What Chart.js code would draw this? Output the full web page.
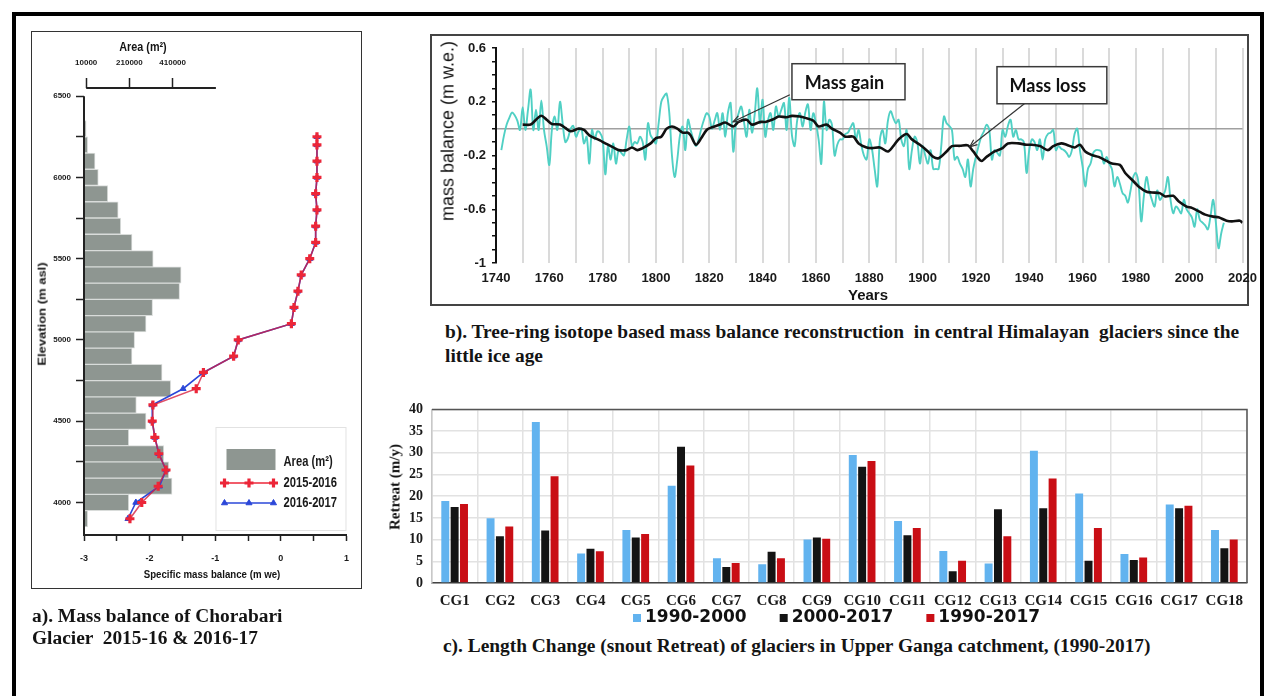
<!DOCTYPE html>
<html>
<head>
<meta charset="utf-8">
<title>Chorabari Glacier mass balance and Upper Ganga glacier retreat</title>
<script src="https://cdn.jsdelivr.net/npm/chart.js@4.4.1/dist/chart.umd.min.js"></script>
<style>
  html, body { margin: 0; padding: 0; background: #fff; }
  body { position: relative; width: 1269px; height: 696px; overflow: hidden; color: #141414;
         font-family: 'Liberation Sans', Arial, sans-serif; }
  .abs { position: absolute; box-sizing: border-box; }
  .frame { left: 12px; top: 12px; width: 1252px; height: 700px; border: 4px solid #000; }
  #boxA { left: 31px; top: 31px; width: 331px; height: 558px; border: 1.5px solid #333; }
  #boxB { left: 430px; top: 34px; width: 819px; height: 272px; border: 2px solid #444; }
  canvas { position: absolute; }
  .cap { position: absolute; font-family: 'Liberation Serif', 'Times New Roman', serif; font-weight: bold;
         font-size: 19.4px; color: #141414; white-space: pre; }
  .lbl { position: absolute; white-space: nowrap; line-height: 1; }
</style>
</head>
<body>
<div class="abs frame"></div>
<div class="abs" id="boxA"></div>
<div class="abs" id="boxB"></div>

<canvas id="chartA" width="330" height="557" style="left:31px;top:31px;width:330px;height:557px;"></canvas>
<canvas id="chartB" width="835" height="271" style="left:430px;top:34px;width:835px;height:271px;"></canvas>
<canvas id="chartC" width="885" height="240" style="left:380px;top:392px;width:885px;height:240px;"></canvas>

<!-- axis titles -->
<div class="lbl" style="left:143px;top:47px;font:bold 12px 'Liberation Sans',Arial;transform:translate(-50%,-50%) scaleX(0.9);">Area (m²)</div>
<div class="lbl" style="left:42px;top:314px;font:bold 13px 'Liberation Sans',Arial;transform:translate(-50%,-50%) rotate(-90deg) scaleY(0.85);">Elevation (m asl)</div>
<div class="lbl" style="left:212px;top:574px;font:bold 11px 'Liberation Sans',Arial;transform:translate(-50%,-50%) scaleX(0.88);">Specific mass balance (m we)</div>

<div class="lbl" style="left:448px;top:131px;font:18px 'Liberation Sans',Arial;transform:translate(-50%,-50%) rotate(-90deg);">mass balance (m w.e.)</div>
<div class="lbl" style="left:868px;top:294px;font:bold 15px 'Liberation Sans',Arial;transform:translate(-50%,-50%);">Years</div>

<div class="lbl" style="left:395px;top:487px;font:bold 15px 'Liberation Serif','Times New Roman',serif;transform:translate(-50%,-50%) rotate(-90deg);">Retreat (m/y)</div>

<!-- captions -->
<div class="cap" style="left:32px;top:605px;line-height:22px;">a). Mass balance of Chorabari
Glacier  2015-16 &amp; 2016-17</div>
<div class="cap" style="left:445px;top:320px;line-height:24px;">b). Tree-ring isotope based mass balance reconstruction  in central Himalayan  glaciers since the
little ice age</div>
<div class="cap" style="left:443px;top:635px;line-height:22px;">c). Length Change (snout Retreat) of glaciers in Upper Ganga catchment, (1990-2017)</div>

<script>
// ---------------- Panel a: hypsometry and specific mass balance ----------------
const elevationBins = [3900, 4000, 4100, 4200, 4300, 4400, 4500, 4600, 4700, 4800, 4900, 5000, 5100,
                       5200, 5300, 5400, 5500, 5600, 5700, 5800, 5900, 6000, 6100, 6200, 6300];
const binAreaM2 = [17000, 207000, 407000, 392000, 369000, 207000, 287000, 242000, 401000, 361000, 222000,
                   234000, 287000, 317000, 442000, 449000, 320000, 222000, 170000, 158000, 110000, 66000,
                   51000, 17000, 10000];
const profileElev = [3900, 4000, 4100, 4200, 4300, 4400, 4500, 4600, 4700, 4800, 4900, 5000, 5100, 5200,
                     5300, 5400, 5500, 5600, 5700, 5800, 5900, 6000, 6100, 6200, 6250];
const mb2015_16 = [-2.30, -2.12, -1.87, -1.75, -1.86, -1.92, -1.96, -1.95, -1.29, -1.18, -0.72, -0.65, 0.16,
                   0.20, 0.26, 0.31, 0.44, 0.53, 0.53, 0.55, 0.53, 0.55, 0.55, 0.55, 0.55];
const mb2016_17 = [-2.33, -2.21, -1.85, -1.75, -1.86, -1.92, -1.96, -1.96, -1.49, -1.18, -0.72, -0.65, 0.16,
                   0.20, 0.26, 0.31, 0.44, 0.53, 0.53, 0.55, 0.53, 0.55, 0.55, 0.55, 0.55];
const elevTicks = [4000, 4250, 4500, 4750, 5000, 5250, 5500, 5750, 6000, 6250, 6500];
const elevLabels = [4000, 4500, 5000, 5500, 6000, 6500];
const mbTicks = [-3, -2.5, -2, -1.5, -1, -0.5, 0, 0.5, 1];
const mbLabels = [-3, -2, -1, 0, 1];
const areaTicks = [10000, 210000, 410000];

// ---------------- Panel b: tree-ring mass balance reconstruction ----------------
const annualStartYear = 1742;
const annualBalance = [
  -0.16, -0.05, 0.03, 0.08, 0.12, 0.10, 0.06, -0.01,
  0.16, -0.01, 0.14, 0.29, -0.01, 0.14, -0.01, 0.21, -0.01, -0.13,
  -0.27, 0.00, 0.09, -0.01, 0.20, 0.04, -0.10, -0.07, 0.00, 0.02,
  -0.06, -0.02, 0.00, -0.11, -0.06, -0.26, -0.01, -0.08, -0.02, -0.03,
  -0.08, -0.34, -0.13, -0.23, -0.11, -0.26, -0.16, -0.18, -0.20, -0.08,
  0.015, -0.13, -0.10, -0.11, -0.06, -0.10, -0.23, 0.04, -0.05, -0.08,
  -0.11, 0.04, 0.20, 0.24, 0.26, 0.115, -0.20, -0.36, -0.23, -0.05,
  0.015, -0.16, 0.066, -0.01, -0.08, -0.13, -0.08, 0.00, 0.066, 0.115,
  0.09, 0.00, 0.06, 0.115, -0.01, 0.115, -0.06, 0.12, 0.19, -0.17,
  0.04, 0.115, 0.165, 0.05, -0.06, 0.14, -0.03, 0.10, 0.30, 0.04,
  0.215, -0.06, 0.06, 0.115, -0.01, 0.165, 0.09, 0.14, 0.19, -0.01,
  0.23, -0.05, -0.13, 0.066, 0.115, 0.015, 0.12, 0.18, -0.01, 0.115,
  0.04, -0.08, -0.26, 0.20, -0.01, 0.066, 0.03, -0.20, -0.12, -0.08,
  -0.08, -0.04, -0.03, 0.01, 0.04, -0.08, -0.01, -0.12, -0.20, -0.23,
  -0.08, -0.15, -0.30, -0.43, -0.08, -0.01, -0.11, 0.06, 0.13, 0.08,
  0.04, 0.066, -0.08, -0.13, -0.01, -0.30, -0.16, -0.06, -0.10, -0.26,
  -0.13, -0.20, -0.26, -0.16, -0.30, -0.30, -0.30, -0.13, 0.09, 0.04,
  0.02, -0.01, -0.23, -0.21, -0.26, -0.30, -0.36, -0.23, -0.43, -0.30,
  -0.21, -0.13, -0.06, -0.02, 0.03, -0.01, -0.23, -0.16, -0.18, -0.20,
  -0.01, -0.06, 0.02, 0.066, -0.06, -0.01, -0.08, -0.08, -0.10, -0.33,
  -0.16, -0.08, -0.10, -0.16, -0.08, -0.23, -0.08, -0.04, -0.03, -0.01,
  -0.16, -0.13, -0.15, -0.16, -0.18, -0.21, -0.16, -0.04, 0.00, -0.16,
  -0.28, -0.43, -0.30, -0.26, -0.18, -0.16, -0.16, -0.17, -0.26, -0.21,
  -0.26, -0.30, -0.43, -0.36, -0.41, -0.48, -0.50, -0.55, -0.46, -0.36,
  -0.33, -0.41, -0.69, -0.50, -0.36, -0.46, -0.53, -0.58, -0.46, -0.53,
  -0.50, -0.46, -0.36, -0.53, -0.63, -0.58, -0.60, -0.63, -0.53, -0.60,
  -0.63, -0.66, -0.73, -0.60, -0.68, -0.70, -0.72, -0.75, -0.65, -0.53,
  -0.70, -0.89, -0.78, -0.70
];
const smoothYears = [1750, 1753, 1755, 1757, 1759, 1761, 1764, 1766, 1768, 1771, 1773, 1775, 1779, 1781, 1784,
  1786, 1789, 1791, 1793, 1795, 1798, 1800, 1802, 1804, 1806, 1808, 1810, 1812, 1813, 1815, 1817, 1819, 1821,
  1824, 1826, 1829, 1831, 1834, 1836, 1839, 1841, 1844, 1846, 1849, 1851, 1854, 1856, 1859, 1861, 1864, 1866,
  1869, 1871, 1874, 1876, 1879, 1881, 1884, 1887, 1889, 1891, 1894, 1896, 1899, 1902, 1904, 1906, 1909, 1911,
  1914, 1917, 1919, 1922, 1924, 1927, 1930, 1932, 1936, 1939, 1941, 1944, 1947, 1949, 1952, 1954, 1957, 1959,
  1961, 1964, 1966, 1969, 1971, 1974, 1976, 1979, 1981, 1984, 1986, 1989, 1991, 1994, 1996, 1999, 2001, 2004,
  2006, 2009, 2011, 2014, 2016, 2019, 2020];
const smoothBalance = [0.03, 0.03, 0.066, 0.096, 0.066, 0.035, 0.03, 0.005, -0.02, 0.0, -0.01, -0.05, -0.088,
  -0.11, -0.14, -0.16, -0.16, -0.14, -0.16, -0.145, -0.11, -0.07, -0.06, 0.0, 0.016, 0.0, -0.03, -0.03, -0.05,
  -0.12, -0.07, -0.01, 0.01, 0.03, 0.046, 0.016, 0.05, 0.066, 0.03, 0.05, 0.05, 0.07, 0.09, 0.085, 0.095, 0.09,
  0.08, 0.06, 0.016, 0.03, 0.0, -0.03, -0.06, -0.06, -0.11, -0.14, -0.145, -0.14, -0.17, -0.13, -0.08, -0.04,
  -0.08, -0.12, -0.17, -0.21, -0.22, -0.17, -0.13, -0.128, -0.125, -0.17, -0.24, -0.21, -0.17, -0.145, -0.11,
  -0.11, -0.12, -0.12, -0.13, -0.16, -0.13, -0.11, -0.12, -0.14, -0.12, -0.17, -0.20, -0.21, -0.24, -0.26,
  -0.27, -0.33, -0.39, -0.43, -0.47, -0.475, -0.48, -0.505, -0.50, -0.54, -0.58, -0.59, -0.62, -0.64, -0.655,
  -0.66, -0.685, -0.69, -0.685, -0.70];
const yearTicks = [1740, 1750, 1760, 1770, 1780, 1790, 1800, 1810, 1820, 1830, 1840, 1850, 1860, 1870, 1880,
  1890, 1900, 1910, 1920, 1930, 1940, 1950, 1960, 1970, 1980, 1990, 2000, 2010, 2020];
const yearLabels = [1740, 1760, 1780, 1800, 1820, 1840, 1860, 1880, 1900, 1920, 1940, 1960, 1980, 2000, 2020];
const balanceTicks = [0.6, 0.5, 0.4, 0.3, 0.2, 0.1, 0, -0.1, -0.2, -0.3, -0.4, -0.5, -0.6, -0.7, -0.8, -0.9, -1];
const balanceLabels = [0.6, 0.2, -0.2, -0.6, -1];
const callouts = [
  { text: 'Mass gain', box: [1851, 0.483, 1893.4, 0.215], tail: [1850.2, 0.252], tip: [1828.9, 0.051] },
  { text: 'Mass loss', box: [1927.9, 0.461, 1969.1, 0.185], tail: [1939.1, 0.20], tip: [1917.7, -0.135] }
];

// ---------------- Panel c: snout retreat of Upper Ganga glaciers ----------------
const glaciers = ['CG1', 'CG2', 'CG3', 'CG4', 'CG5', 'CG6', 'CG7', 'CG8', 'CG9', 'CG10', 'CG11', 'CG12',
                  'CG13', 'CG14', 'CG15', 'CG16', 'CG17', 'CG18'];
const retreat1990_2000 = [18.9, 14.9, 37.1, 6.8, 12.2, 22.4, 5.7, 4.3, 10.0, 29.5, 14.3, 7.4, 4.5, 30.5, 20.6, 6.7, 18.1, 12.2];
const retreat2000_2017 = [17.5, 10.8, 12.1, 7.9, 10.5, 31.4, 3.7, 7.2, 10.5, 26.8, 11.0, 2.7, 17.0, 17.2, 5.1, 5.3, 17.2, 8.0];
const retreat1990_2017 = [18.2, 13.0, 24.6, 7.3, 11.3, 27.1, 4.6, 5.7, 10.2, 28.1, 12.7, 5.1, 10.8, 24.1, 12.7, 5.9, 17.8, 10.0];

// ---------------------------------------------------------------------------------
Chart.defaults.color = '#1a1a1a';
Chart.defaults.font.family = "'Liberation Sans', Arial, sans-serif";
const SANS = "'Liberation Sans', Arial, sans-serif";
const SERIF = "'Liberation Serif', 'Times New Roman', serif";
const common = { responsive: false, animation: false, devicePixelRatio: 1, events: [] };

// Panel a: left axis line (6500 down to 3800), the short area axis on top, and the in-plot legend
const panelAExtras = {
  id: 'panelAExtras',
  afterDraw(chart) {
    const { ctx, chartArea, scales } = chart;
    ctx.save();
    ctx.strokeStyle = '#222';
    ctx.lineWidth = 2;
    ctx.beginPath();
    ctx.moveTo(chartArea.left, scales.y.getPixelForValue(6500));
    ctx.lineTo(chartArea.left, scales.y.getPixelForValue(3800));
    ctx.stroke();
    ctx.beginPath();
    ctx.moveTo(scales.x2.getPixelForValue(10000), chartArea.top);
    ctx.lineTo(scales.x2.getPixelForValue(610000), chartArea.top);
    ctx.stroke();

    // legend
    const bx = chartArea.right - 131, by = chartArea.bottom - 108, bw = 130, bh = 103;
    ctx.fillStyle = '#fff';
    ctx.fillRect(bx, by, bw, bh);
    ctx.strokeStyle = '#e2e2e2';
    ctx.lineWidth = 1;
    ctx.strokeRect(bx + 0.5, by + 0.5, bw, bh);
    const ds = chart.data.datasets;
    const bar = ds[2], red = ds[0], blue = ds[1];
    ctx.fillStyle = bar.backgroundColor;
    ctx.fillRect(bx + 11, by + 22, 49, 21);
    const rows = [[red, by + 56], [blue, by + 76]];
    rows.forEach(([d, yy]) => {
      ctx.strokeStyle = d.pointBorderColor;
      ctx.lineWidth = 1.6;
      ctx.beginPath(); ctx.moveTo(bx + 9, yy); ctx.lineTo(bx + 58, yy); ctx.stroke();
      [bx + 9, bx + 33.5, bx + 58].forEach(px => {
        ctx.fillStyle = d.pointBackgroundColor; ctx.strokeStyle = d.pointBorderColor;
        ctx.lineWidth = d.pointBorderWidth;
        Chart.helpers.drawPoint(ctx, {
          pointStyle: d.pointStyle, radius: d.pointRadius, borderWidth: d.pointBorderWidth, rotation: 0
        }, px, yy);
      });
    });
    ctx.fillStyle = '#1a1a1a';
    ctx.textBaseline = 'middle';
    ctx.font = "bold 14px " + SANS;
    [[bar.label, by + 35], [red.label, by + 56], [blue.label, by + 76]].forEach(([t, yy]) => {
      ctx.save();
      ctx.translate(bx + 68, yy);
      ctx.scale(0.8, 1);
      ctx.fillText(t, 0, 0);
      ctx.restore();
    });
    ctx.restore();
  }
};

new Chart(document.getElementById('chartA'), {
  type: 'bar',
  data: {
    datasets: [
      {
        type: 'line', label: '2015-2016', xAxisID: 'x', yAxisID: 'y', order: 1,
        data: profileElev.map((e, i) => ({ x: mb2015_16[i], y: e })),
        borderColor: 'rgba(214, 30, 62, 0.78)', borderWidth: 1.6, tension: 0,
        pointStyle: 'cross', pointRadius: 4.5, pointBorderWidth: 3.2,
        pointBorderColor: '#ec2638', pointBackgroundColor: '#ec2638'
      },
      {
        type: 'line', label: '2016-2017', xAxisID: 'x', yAxisID: 'y', order: 2,
        data: profileElev.map((e, i) => ({ x: mb2016_17[i], y: e })),
        borderColor: '#2b47d8', borderWidth: 1.6, tension: 0,
        pointStyle: 'triangle', pointRadius: 3.5, pointBorderWidth: 1,
        pointBorderColor: '#2b47d8', pointBackgroundColor: '#2b47d8'
      },
      {
        type: 'bar', label: 'Area (m²)', indexAxis: 'y', xAxisID: 'x2', yAxisID: 'y', order: 3,
        data: elevationBins.map((e, i) => ({ x: binAreaM2[i], y: e })),
        backgroundColor: '#8e9691', borderColor: '#d9dcda', borderWidth: 1,
        grouped: false, categoryPercentage: 1, barPercentage: 1
      }
    ]
  },
  options: {
    ...common,
    layout: { padding: { left: 0, top: 0, right: 10, bottom: 0 } },
    plugins: { legend: { display: false }, tooltip: { enabled: false } },
    scales: {
      x: {
        type: 'linear', position: 'bottom', min: -3, max: 1, offset: false,
        afterBuildTicks: s => { s.ticks = mbTicks.map(v => ({ value: v })); },
        ticks: { callback: v => (mbLabels.includes(v) ? String(v) : ''), autoSkip: false, maxRotation: 0,
                 padding: 12, font: { size: 9, weight: 'bold' } },
        grid: { drawOnChartArea: false, offset: false, tickLength: 6, tickColor: '#222', tickWidth: 1.5 },
        border: { display: true, color: '#222', width: 2 },
        afterFit: s => { s.height = 53; }
      },
      x2: {
        type: 'linear', position: 'top', min: 0, max: 1214000, offset: false,
        afterBuildTicks: s => { s.ticks = areaTicks.map(v => ({ value: v })); },
        ticks: { callback: v => String(v), autoSkip: false, maxRotation: 0, padding: 10,
                 font: { size: 8, weight: 'bold' } },
        grid: { drawOnChartArea: false, offset: false, tickLength: 10, tickColor: '#222', tickWidth: 1.5 },
        border: { display: false },
        afterFit: s => { s.height = 57; }
      },
      y: {
        type: 'linear', min: 3800, max: 6550, offset: false,
        afterBuildTicks: s => { s.ticks = elevTicks.map(v => ({ value: v })); },
        ticks: { callback: v => (elevLabels.includes(v) ? String(v) : ''), autoSkip: false, padding: 5,
                 font: { size: 8, weight: 'bold' } },
        grid: { drawOnChartArea: false, offset: false, tickLength: 8, tickColor: '#222', tickWidth: 1.5 },
        border: { display: false },
        afterFit: s => { s.width = 53; }
      }
    }
  },
  plugins: [panelAExtras]
});

// Panel b: boxed callouts with arrows
const calloutPlugin = {
  id: 'callouts',
  afterDatasetsDraw(chart) {
    const { ctx, scales: { x, y } } = chart;
    ctx.save();
    callouts.forEach(c => {
      const tx = x.getPixelForValue(c.tail[0]), ty = y.getPixelForValue(c.tail[1]);
      const hx = x.getPixelForValue(c.tip[0]), hy = y.getPixelForValue(c.tip[1]);
      ctx.strokeStyle = '#333';
      ctx.lineWidth = 1.2;
      ctx.beginPath(); ctx.moveTo(tx, ty); ctx.lineTo(hx, hy); ctx.stroke();
      const ang = Math.atan2(hy - ty, hx - tx);
      ctx.beginPath();
      ctx.moveTo(hx - 8 * Math.cos(ang - 0.4), hy - 8 * Math.sin(ang - 0.4));
      ctx.lineTo(hx, hy);
      ctx.lineTo(hx - 8 * Math.cos(ang + 0.4), hy - 8 * Math.sin(ang + 0.4));
      ctx.stroke();
      const x1 = x.getPixelForValue(c.box[0]), y1 = y.getPixelForValue(c.box[1]);
      const x2 = x.getPixelForValue(c.box[2]), y2 = y.getPixelForValue(c.box[3]);
      ctx.fillStyle = '#fff';
      ctx.fillRect(x1, y1, x2 - x1, y2 - y1);
      ctx.strokeStyle = '#3a3a3a';
      ctx.lineWidth = 1.5;
      ctx.strokeRect(x1, y1, x2 - x1, y2 - y1);
      ctx.fillStyle = '#111';
      ctx.font = "bold 18px Lato, 'Liberation Sans', sans-serif";
      ctx.textAlign = 'center';
      ctx.textBaseline = 'middle';
      ctx.fillText(c.text, (x1 + x2) / 2 - 4, (y1 + y2) / 2 + 1);
    });
    ctx.restore();
  }
};

new Chart(document.getElementById('chartB'), {
  type: 'line',
  data: {
    datasets: [
      {
        label: 'Smoothed', order: 1,
        data: smoothYears.map((yr, i) => ({ x: yr, y: smoothBalance[i] })),
        borderColor: '#111', borderWidth: 2.6, pointRadius: 0, tension: 0.3
      },
      {
        label: 'Annual', order: 2,
        data: annualBalance.map((v, i) => ({ x: annualStartYear + i, y: v })),
        borderColor: '#50d0c4', borderWidth: 1.9, pointRadius: 0, tension: 0.35
      }
    ]
  },
  options: {
    ...common,
    layout: { padding: { left: 0, top: 14, right: 22, bottom: 0 } },
    plugins: { legend: { display: false }, tooltip: { enabled: false } },
    scales: {
      x: {
        type: 'linear', min: 1740, max: 2020,
        afterBuildTicks: s => { s.ticks = yearTicks.map(v => ({ value: v })); },
        ticks: { callback: v => (yearLabels.includes(v) ? String(v) : ''), autoSkip: false, maxRotation: 0,
                 padding: 8, font: { size: 13, weight: 'bold' } },
        grid: { drawTicks: false, lineWidth: 2,
                color: c => (c.tick && c.tick.value === 1740 ? 'rgba(0,0,0,0)' : '#dadada') },
        border: { display: false },
        afterFit: s => { s.height = 42; }
      },
      y: {
        type: 'linear', min: -1, max: 0.6,
        afterBuildTicks: s => { s.ticks = balanceTicks.map(v => ({ value: v })); },
        ticks: { callback: v => (balanceLabels.includes(v) ? String(v) : ''), autoSkip: false, padding: 6,
                 font: { size: 13, weight: 'bold' } },
        grid: { tickLength: 4, tickColor: '#111', tickWidth: 1.5, lineWidth: 1.5,
                color: c => (c.tick && c.tick.value === 0 ? '#a0a0a0' : 'rgba(0,0,0,0)') },
        border: { display: true, color: '#111', width: 2 },
        afterFit: s => { s.width = 66; }
      }
    }
  },
  plugins: [calloutPlugin]
});

// Panel c: plot frame and legend row
const panelCExtras = {
  id: 'panelCExtras',
  afterDraw(chart) {
    const { ctx, chartArea: a } = chart;
    ctx.save();
    ctx.strokeStyle = '#555';
    ctx.lineWidth = 1.5;
    ctx.beginPath();
    ctx.moveTo(a.left, a.top); ctx.lineTo(a.right, a.top); ctx.lineTo(a.right, a.bottom);
    ctx.stroke();

    const ds = chart.data.datasets;
    ctx.font = "bold 17px 'DejaVu Sans', sans-serif";
    ctx.textBaseline = 'middle';
    let lx = a.left + 201;
    const ly = a.bottom + 35;
    ds.forEach(d => {
      ctx.fillStyle = d.backgroundColor;
      ctx.fillRect(lx, ly - 4, 8, 8);
      ctx.fillStyle = '#111';
      ctx.fillText(d.label, lx + 12, ly);
      lx += 12 + ctx.measureText(d.label).width + 33;
    });
    ctx.restore();
  }
};

new Chart(document.getElementById('chartC'), {
  type: 'bar',
  data: {
    labels: glaciers,
    datasets: [
      { label: '1990-2000', data: retreat1990_2000, backgroundColor: '#62b3ef' },
      { label: '2000-2017', data: retreat2000_2017, backgroundColor: '#141414' },
      { label: '1990-2017', data: retreat1990_2017, backgroundColor: '#c90e15' }
    ]
  },
  options: {
    ...common,
    categoryPercentage: 0.62,
    barPercentage: 0.85,
    layout: { padding: { left: 0, top: 10, right: 18, bottom: 0 } },
    plugins: { legend: { display: false }, tooltip: { enabled: false } },
    scales: {
      x: {
        ticks: { padding: 9, autoSkip: false, maxRotation: 0,
                 font: { family: SERIF, size: 15, weight: 'bold' } },
        grid: { drawTicks: false, color: '#e2e2e2', lineWidth: 1.5 },
        border: { display: true, color: '#444', width: 1.5 },
        afterFit: s => { s.height = 49; }
      },
      y: {
        min: 0, max: 40,
        ticks: { stepSize: 5, padding: 9, font: { family: SERIF, size: 14, weight: 'bold' } },
        grid: { drawTicks: false, color: '#e2e2e2', lineWidth: 1.5 },
        border: { display: true, color: '#c8c8c8', width: 1.5 },
        afterFit: s => { s.width = 52; }
      }
    }
  },
  plugins: [panelCExtras]
});
</script>
</body>
</html>
